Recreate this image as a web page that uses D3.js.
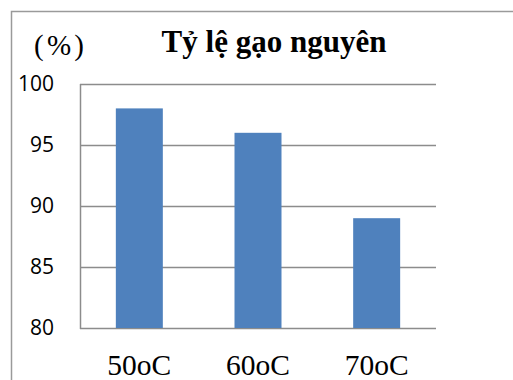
<!DOCTYPE html>
<html>
<head>
<meta charset="utf-8">
<script src="https://cdn.jsdelivr.net/npm/d3@7"></script>
<style>
  html, body { margin: 0; padding: 0; background: #fff; }
  svg { display: block; }
</style>
</head>
<body>
<svg id="chart" width="513" height="380"></svg>
<script>
// Whole-grain rice ratio by drying temperature
const categories = ["50oC", "60oC", "70oC"];
const values = [98, 96, 89];
const yTicks = [80, 85, 90, 95, 100];
const titleText = "Tỷ lệ gạo nguyên";
const unitText = "(%)";

const svg = d3.select("#chart");
const W = 513, H = 380;
const plot = { left: 80, right: 436, top: 84, bottom: 328 };
const gridColor = "#8c8c8c";
const serif = "'Liberation Serif', 'Times New Roman', serif";

// outer chart frame (left and top edges visible)
svg.append("path")
  .attr("d", `M11.5,${H} L11.5,11.5 L${W},11.5`)
  .attr("fill", "none")
  .attr("stroke", "#9a9a9a")
  .attr("stroke-width", 1.5);

const x = d3.scaleBand()
  .domain(categories)
  .range([plot.left, plot.right])
  .paddingInner(0.604)
  .paddingOuter(0.302);

const y = d3.scaleLinear()
  .domain([80, 100])
  .range([plot.bottom, plot.top]);

// horizontal gridlines
svg.append("g")
  .selectAll("line")
  .data(yTicks)
  .join("line")
  .attr("x1", plot.left)
  .attr("x2", plot.right)
  .attr("y1", d => Math.round(y(d)) + 0.5)
  .attr("y2", d => Math.round(y(d)) + 0.5)
  .attr("stroke", gridColor)
  .attr("stroke-width", 1.5);

// vertical axis line
svg.append("line")
  .attr("x1", plot.left + 0.5).attr("x2", plot.left + 0.5)
  .attr("y1", plot.top).attr("y2", plot.bottom + 1)
  .attr("stroke", gridColor)
  .attr("stroke-width", 1.5);

// bars
svg.append("g")
  .selectAll("rect")
  .data(values)
  .join("rect")
  .attr("x", (d, i) => x(categories[i]))
  .attr("width", x.bandwidth())
  .attr("y", d => y(d))
  .attr("height", d => y(80) - y(d))
  .attr("fill", "#4f81bd");

// y tick labels
svg.append("g")
  .selectAll("text")
  .data(yTicks)
  .join("text")
  .attr("x", 54)
  .attr("y", d => y(d))
  .attr("dy", "0.35em")
  .attr("text-anchor", "end")
  .attr("font-family", "'Open Sans', sans-serif")
  .attr("font-size", 21)
  .attr("fill", "#000")
  .text(d => d);

// category labels
svg.append("g")
  .selectAll("text")
  .data(categories)
  .join("text")
  .attr("x", d => x(d) + x.bandwidth() / 2)
  .attr("y", 375)
  .attr("text-anchor", "middle")
  .attr("font-family", serif)
  .attr("font-size", 29.5)
  .attr("fill", "#000")
  .text(d => d);

// title
svg.append("text")
  .attr("x", 274)
  .attr("y", 52)
  .attr("text-anchor", "middle")
  .attr("font-family", serif)
  .attr("font-weight", "bold")
  .attr("font-size", 31)
  .attr("fill", "#000")
  .text(titleText);

// unit label
svg.append("text")
  .attr("x", 34)
  .attr("y", 55)
  .attr("font-family", serif)
  .attr("font-size", 29)
  .attr("textLength", 50)
  .attr("lengthAdjust", "spacing")
  .attr("fill", "#000")
  .text(unitText);
</script>
</body>
</html>
